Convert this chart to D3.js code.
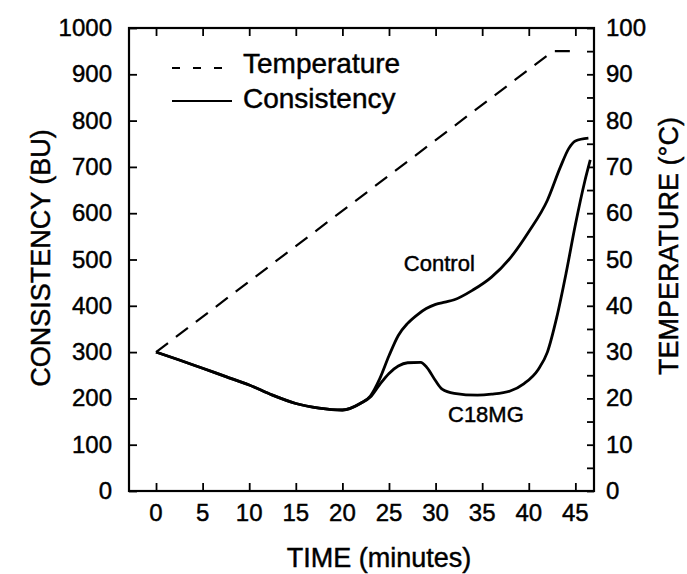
<!DOCTYPE html>
<html>
<head>
<meta charset="utf-8">
<script src="https://cdnjs.cloudflare.com/ajax/libs/d3/7.8.5/d3.min.js"></script>
<style>
  html, body { margin: 0; padding: 0; background: #fff; }
  svg { display: block; }
  text { font-family: "Liberation Sans", Arial, Helvetica, sans-serif; fill: #000; stroke: #000; stroke-width: 0.45px; }
</style>
</head>
<body>
<svg id="chart" width="687" height="574"></svg>
<script>
// ---- data ----
const xTicks = [0, 5, 10, 15, 20, 25, 30, 35, 40, 45];
const leftTicks = [0, 100, 200, 300, 400, 500, 600, 700, 800, 900, 1000];
const rightTicks = [0, 10, 20, 30, 40, 50, 60, 70, 80, 90, 100];
const rightMinorTicks = [5, 15, 25, 35, 45, 55, 65, 75, 85, 95];

const tempTime = [0, 42.6, 44.7];
const tempValue = [30, 95, 95];

const controlTime = [0, 2.5, 5, 7.5, 10, 12.5, 15, 17.5, 20, 22, 23, 24, 25, 26, 27, 28, 29, 30, 31, 32, 34, 36, 38, 40, 42, 43.4, 44.3, 45, 46.4];
const controlValue = [300, 283, 265, 247, 229, 207, 189, 179, 175, 190, 205, 242, 292, 336, 362, 380, 394, 403, 408, 413, 434, 462, 503, 560, 628, 700, 740, 756, 762];

const c18Time = [0, 2.5, 5, 7.5, 10, 12.5, 15, 17.5, 20, 22, 23, 24, 25, 26, 27, 28.4, 29.1, 30, 30.7, 32, 34.5, 36, 38, 39.5, 41, 42, 43, 44, 45, 46, 46.6];
const c18Value = [300, 283, 265, 247, 229, 207, 189, 179, 175, 190, 203, 230, 254, 270, 277, 278, 266, 238, 220, 211, 207, 209, 216, 232, 262, 300, 375, 470, 575, 668, 715];

const legendLabels = ["Temperature", "Consistency"];
const seriesLabels = ["Control", "C18MG"];

// ---- layout ----
const svg = d3.select("#chart");
const L = 129, R = 594, T = 28, B = 491;

const x = d3.scaleLinear().domain([-2.9, 47]).range([L, R]);
const yL = d3.scaleLinear().domain([0, 1000]).range([B, T]);
const yR = d3.scaleLinear().domain([0, 100]).range([B, T]);

// frame
svg.append("rect").attr("x", L).attr("y", T).attr("width", R - L).attr("height", B - T)
  .attr("fill", "none").attr("stroke", "#000").attr("stroke-width", 2.2);

// axes (ticks inward)
const fontTick = 24;
const axBottom = svg.append("g").attr("transform", `translate(0,${B})`)
  .call(d3.axisTop(x).tickValues(xTicks).tickSize(8).tickFormat(""));
const axTop = svg.append("g").attr("transform", `translate(0,${T})`)
  .call(d3.axisBottom(x).tickValues(xTicks).tickSize(8).tickFormat(""));
const axLeft = svg.append("g").attr("transform", `translate(${L},0)`)
  .call(d3.axisRight(yL).tickValues(leftTicks).tickSize(8).tickFormat(""));
const axRight = svg.append("g").attr("transform", `translate(${R},0)`)
  .call(d3.axisLeft(yR).tickValues(rightTicks.concat(rightMinorTicks)).tickSize(7).tickFormat(""));
[axBottom, axTop, axLeft, axRight].forEach(g => {
  g.select(".domain").remove();
  g.selectAll(".tick line").attr("stroke", "#000").attr("stroke-width", 1.8);
});

// tick labels
svg.append("g").selectAll("text").data(xTicks).join("text")
  .attr("x", d => x(d)).attr("y", B + 30).attr("text-anchor", "middle")
  .attr("font-size", fontTick).text(d => d);
svg.append("g").selectAll("text").data(leftTicks).join("text")
  .attr("x", L - 17).attr("y", d => yL(d) + 8).attr("text-anchor", "end")
  .attr("font-size", fontTick).text(d => d);
svg.append("g").selectAll("text").data(rightTicks).join("text")
  .attr("x", R + 12).attr("y", d => yR(d) + 8).attr("text-anchor", "start")
  .attr("font-size", fontTick).text(d => d);

// axis titles
svg.append("text").attr("x", 379).attr("y", 567).attr("text-anchor", "middle")
  .attr("font-size", 27).text("TIME (minutes)");
svg.append("text").attr("transform", "translate(50,258) rotate(-90)").attr("text-anchor", "middle")
  .attr("font-size", 27).text("CONSISTENCY (BU)");
svg.append("text").attr("transform", "translate(678,246) rotate(-90)").attr("text-anchor", "middle")
  .attr("font-size", 27).text("TEMPERATURE (°C)");

// lines
const tempData = tempTime.map((t, i) => [t, tempValue[i]]);
const controlData = controlTime.map((t, i) => [t, controlValue[i]]);
const c18Data = c18Time.map((t, i) => [t, c18Value[i]]);

svg.append("path").datum(tempData)
  .attr("d", d3.line().x(d => x(d[0])).y(d => yR(d[1])))
  .attr("fill", "none").attr("stroke", "#000").attr("stroke-width", 2.2)
  .attr("stroke-dasharray", "15,10");

const cl = d3.line().x(d => x(d[0])).y(d => yL(d[1])).curve(d3.curveMonotoneX);
svg.append("path").datum(controlData).attr("d", cl)
  .attr("fill", "none").attr("stroke", "#000").attr("stroke-width", 2.8);
svg.append("path").datum(c18Data).attr("d", cl)
  .attr("fill", "none").attr("stroke", "#000").attr("stroke-width", 2.8);

// series labels
svg.append("text").attr("x", x(30.4)).attr("y", yL(475)).attr("text-anchor", "middle")
  .attr("font-size", 22).text(seriesLabels[0]);
svg.append("text").attr("x", x(35.4)).attr("y", yL(150)).attr("text-anchor", "middle")
  .attr("font-size", 22).text(seriesLabels[1]);

// legend
svg.append("line").attr("x1", 172).attr("x2", 230).attr("y1", 68).attr("y2", 68)
  .attr("stroke", "#000").attr("stroke-width", 2.2).attr("stroke-dasharray", "8,13");
svg.append("line").attr("x1", 172).attr("x2", 232).attr("y1", 101).attr("y2", 101)
  .attr("stroke", "#000").attr("stroke-width", 2.2);
svg.append("text").attr("x", 243).attr("y", 73).attr("font-size", 28).text(legendLabels[0]);
svg.append("text").attr("x", 243).attr("y", 108).attr("font-size", 28).text(legendLabels[1]);
</script>
</body>
</html>
